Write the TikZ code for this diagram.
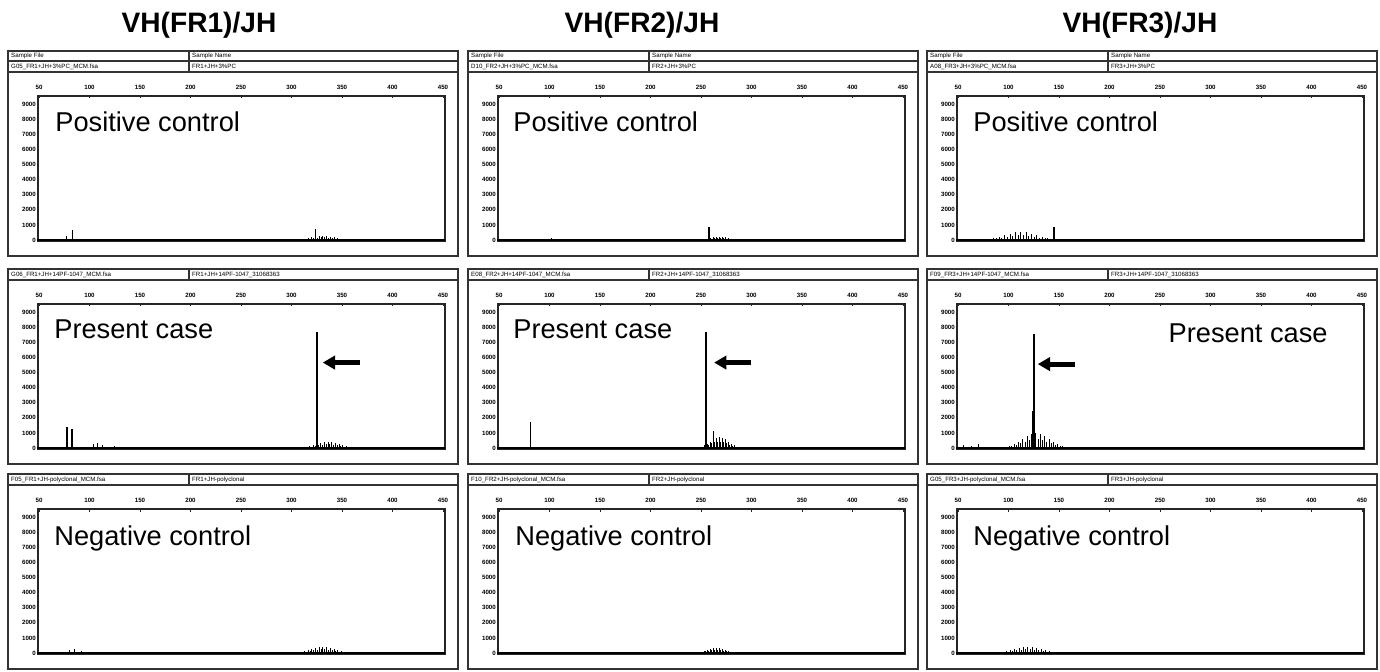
\documentclass[tikz,border=0pt]{standalone}
\usepackage{fontspec}
\setmainfont{Liberation Sans}
\usepackage{tikz}
\usetikzlibrary{arrows.meta}
\usetikzlibrary{positioning}
\tikzset{%
  frame/.style={draw=black!80, line width=0.6pt},
  plotbox/.style={draw=black!85, line width=0.9pt},
  trace/.style={draw=black, line width=0.45pt},
  datascale/.style={shift={(-19.5,168)}, x=0.0202cm, y=0.000302cm},
  headtext/.style={font=\fontsize{3.5}{4}\selectfont, anchor=west, inner sep=0.5pt},
  ticklab/.style={font=\bfseries\fontsize{3.5}{4}\selectfont, inner sep=0.5pt},
  title/.style={font=\bfseries\fontsize{16}{18}\selectfont, inner sep=0pt},
  casetext/.style={font=\fontsize{15.5}{18}\selectfont, anchor=base west, inner sep=0pt},
  markarrow/.style={line width=2.8pt, -{Triangle[length=7pt,width=7.6pt]}}
}
% one electropherogram: name, left, top, header bottom, file, sample, trace
\newcommand{\chart}[7]{%
  \begin{scope}[shift={(#2,#4)}]
    \draw[frame] (0,{#3-#4}) rectangle (450,184);
    \draw[frame] (0,-11) -- (450,-11) (0,0) -- (450,0) (181,{#3-#4}) -- (181,0);
    \ifnum\numexpr#4-#3\relax>15
      \node[headtext] (#1-sf) at (2,-16) {Sample File};
      \node[headtext] (#1-sn) at (183,-16) {Sample Name};
    \fi
    \node[headtext] (#1-file) at (2,-5.5) {#5};
    \node[headtext] (#1-samp) at (183,-5.5) {#6};
    \draw[plotbox] (30,24) rectangle (437,169);
    \coordinate (#1-box) at (30,24);
    \foreach \j in {0,...,8}{
      \pgfmathtruncatemacro\xval{50+50*\j}
      \node[ticklab] (#1-x\j) at (31+50.5*\j,15) {\xval};
      \draw[plotbox, line width=0.5pt] (31+50.5*\j,24) -- ++(0,2.5);
    }
    \foreach \k in {0,...,9}{
      \pgfmathtruncatemacro\yval{1000*\k}
      \node[ticklab, anchor=east] (#1-y\k) at (29,168-15.11*\k) {\yval};
    }
    \begin{scope}[datascale]
      \draw[trace, line width=0.8pt] (48,0) -- (452,0);
      #7
    \end{scope}
  \end{scope}}
\newcommand{\spike}[3][]{\draw[trace,#1] (#2,0) -- (#2,#3);}
\newcommand{\hump}[3]{% centre, spread, height
  \foreach \i in {-24,...,24}{%
    \pgfmathsetmacro\hx{#1+\i*#2/12}%
    \pgfmathsetmacro\hy{#3*exp(-2*(\i/12)^2)*(mod(\i+30,2)==1?0.6:1)}%
    \draw[trace, line width=0.35pt] (\hx,0) -- (\hx,\hy);}}

\begin{document}
\begin{tikzpicture}[x=0.02cm, y=-0.02cm]
  \useasboundingbox (0,0) rectangle (1380,672);
  \fill[white] (0,0) rectangle (1380,672);

  \node[title] (t1) at (199,25) {VH(FR1)/JH};
  \node[title] (t2) at (642,25) {VH(FR2)/JH};
  \node[title] (t3) at (1140,25) {VH(FR3)/JH};

  % FR1
  \chart{pc1}{8}{51}{72}{G05\_FR1+JH+3\%PC\_MCM.fsa}{FR1+JH+3\%PC}{%
    \spike{77}{250} \spike[line width=0.8pt]{83}{650} \spike{105}{90}
    \hump{331}{22}{280} \spike[line width=0.8pt]{324}{750}}
  \chart{pr1}{8}{269}{280}{G06\_FR1+JH+14PF-1047\_MCM.fsa}{FR1+JH+14PF-1047\_31068363}{%
    \spike[line width=0.8pt]{77.7}{1400} \spike[line width=0.8pt]{82.6}{1250}
    \spike{104}{250} \spike{108}{320} \spike{113}{180} \spike{125}{120}
    \hump{336}{22}{420} \spike[line width=1pt]{325}{7600}
    \coordinate (pr1-tip) at (331,5600);
    \coordinate (pr1-tail) at (368,5600);
    \draw[markarrow] (pr1-tail) -- (pr1-tip);}
  \chart{nc1}{8}{474}{485}{F05\_FR1+JH-polyclonal\_MCM.fsa}{FR1+JH-polyclonal}{%
    \spike{80}{180} \spike{85}{260} \spike{92}{120}
    \hump{331}{22}{420}}

  % FR2
  \chart{pc2}{468}{51}{72}{D10\_FR2+JH+3\%PC\_MCM.fsa}{FR2+JH+3\%PC}{%
    \spike{102}{120} \hump{268}{18}{220} \spike[line width=0.8pt]{258}{850}}
  \chart{pr2}{468}{269}{280}{E08\_FR2+JH+14PF-1047\_MCM.fsa}{FR2+JH+14PF-1047\_31068363}{%
    \spike[line width=0.8pt]{81}{1700}
    \hump{268}{18}{700} \spike{262}{1100} \spike[line width=1pt]{255}{7600}
    \coordinate (pr2-tip) at (263,5600);
    \coordinate (pr2-tail) at (300,5600);
    \draw[markarrow] (pr2-tail) -- (pr2-tip);}
  \chart{nc2}{468}{474}{485}{F10\_FR2+JH-polyclonal\_MCM.fsa}{FR2+JH-polyclonal}{%
    \hump{265}{18}{350}}

  % FR3
  \chart{pc3}{927}{51}{72}{A08\_FR3+JH+3\%PC\_MCM.fsa}{FR3+JH+3\%PC}{%
    \hump{112}{32}{520} \spike[line width=0.8pt]{145}{880}}
  \chart{pr3}{927}{269}{280}{F09\_FR3+JH+14PF-1047\_MCM.fsa}{FR3+JH+14PF-1047\_31068363}{%
    \spike{55}{200} \spike{63}{150} \spike{70}{250}
    \hump{127}{26}{1000} \spike[line width=1.6pt]{125}{2400} \spike[line width=1pt]{125}{7500}
    \coordinate (pr3-tip) at (129,5500);
    \coordinate (pr3-tail) at (166,5500);
    \draw[markarrow] (pr3-tail) -- (pr3-tip);}
  \chart{nc3}{927}{474}{485}{G05\_FR3+JH-polyclonal\_MCM.fsa}{FR3+JH-polyclonal}{%
    \hump{119}{26}{400}}

  % labels inside the plots
  \node[casetext] (pc1-lab) at ([shift={(17,36)}]pc1-box) {Positive control};
  \node[casetext] (pr1-lab) at ([shift={(16,34)}]pr1-box) {Present case};
  \node[casetext] (nc1-lab) at ([shift={(16,36)}]nc1-box) {Negative control};
  \node[casetext] (pc2-lab) at ([shift={(15,36)}]pc2-box) {Positive control};
  \node[casetext] (pr2-lab) at ([shift={(15,34)}]pr2-box) {Present case};
  \node[casetext] (nc2-lab) at ([shift={(17,36)}]nc2-box) {Negative control};
  \node[casetext] (pc3-lab) at ([shift={(16,36)}]pc3-box) {Positive control};
  \node[casetext, anchor=base east] (pr3-lab) at ([shift={(371,38)}]pr3-box) {Present case};
  \node[casetext] (nc3-lab) at ([shift={(16,36)}]nc3-box) {Negative control};
\end{tikzpicture}
\end{document}
